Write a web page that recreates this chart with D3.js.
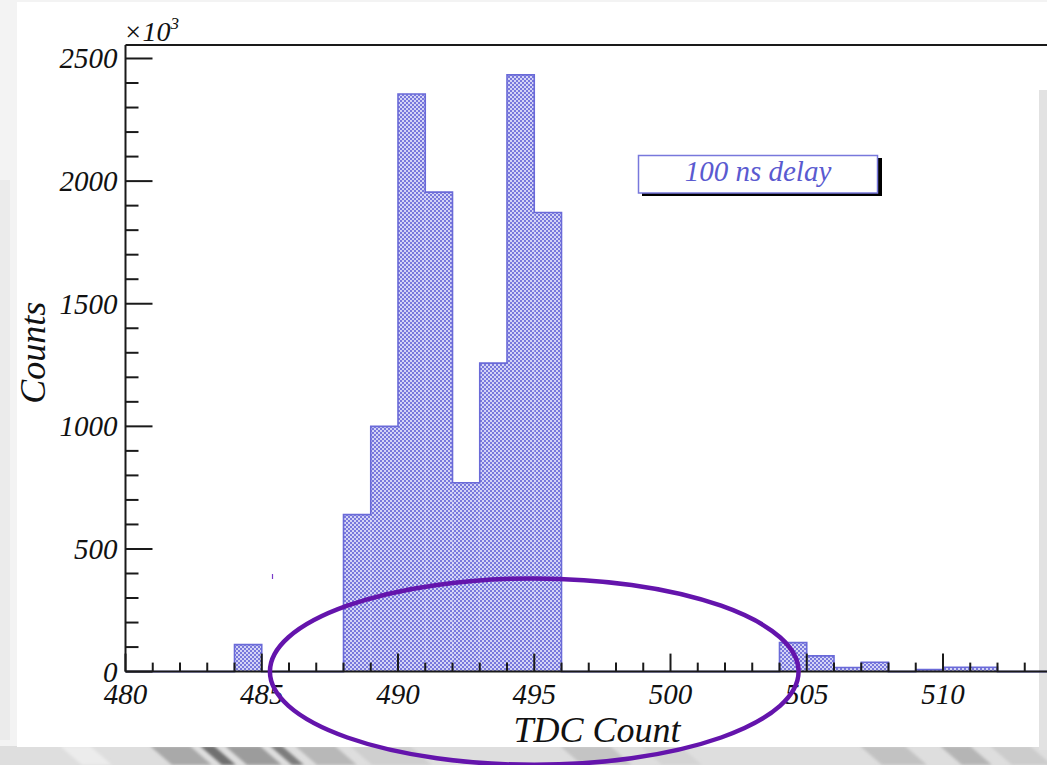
<!DOCTYPE html>
<html>
<head>
<meta charset="utf-8">
<script src="https://cdn.jsdelivr.net/npm/d3@7"></script>
<style>
  html, body { margin: 0; padding: 0; background: #fff; }
  #container { width: 1047px; height: 765px; overflow: hidden; }
  text { font-family: 'Liberation Serif', 'DejaVu Serif', serif; font-style: italic; }
</style>
</head>
<body>
<div id="container"></div>
<script>
// canvas
let width = 1047;
let height = 765;
let margin = { top: 45, left: 125.5, bottom: 93.4 };

// histogram bins (TDC count, lower edge) and counts in units of 10^3
const binLow = [480, 481, 482, 483, 484, 485, 486, 487, 488, 489, 490, 491, 492, 493, 494, 495, 496, 497,
  498, 499, 500, 501, 502, 503, 504, 505, 506, 507, 508, 509, 510, 511, 512, 513, 514];
const counts = [0, 0, 0, 0, 110, 0, 0, 0, 640, 1000, 2355, 1955, 770, 1258, 2433, 1872, 0, 0,
  0, 0, 0, 0, 0, 0, 118, 64, 17, 38, 0, 8, 18, 18, 0, 0, 0];
const binWidth = 1;

// axis ticks
const xTickLabels = [480, 485, 490, 495, 500, 505, 510];
const yTickLabels = [0, 500, 1000, 1500, 2000, 2500];
const xMinorStep = 1;
const yMinorStep = 100;

const legendText = '100 ns delay';
const xTitle = 'TDC Count';
const yTitle = 'Counts';

// the hand drawn ring, in data units
const ring = { cx: 495, cy: 0, rx: 9.7, ry: 380 };

let svg = d3.create('svg');

window.draw = () => {
  svg.attr('width', width).attr('height', height);

  let x = d3.scaleLinear().domain([480, 515]).range([margin.left, margin.left + 35 * 27.25]);
  let y = d3.scaleLinear().domain([0, 2555]).range([height - margin.bottom, margin.top]);
  let y0 = y(0);

  // slide background (grey streaks round the white panel)
  let defs = svg.append('defs');
  let blur = defs.append('filter').attr('id', 'blur').attr('x', '-10%').attr('y', '-50%')
    .attr('width', '120%').attr('height', '200%');
  blur.append('feGaussianBlur').attr('stdDeviation', 1.8);

  svg.append('rect').attr('width', width).attr('height', height).attr('fill', '#f3f3f3');
  svg.append('rect').attr('y', 746).attr('width', width).attr('height', 19).attr('fill', '#dedede');
  // streaks: left x, width, colour
  const streakList = [
    [60, 30, '#ececec'], [150, 40, '#a9a9a9'], [200, 14, '#6f6f6f'], [225, 35, '#9c9c9c'],
    [270, 12, '#7d7d7d'], [295, 40, '#b8b8b8'], [350, 60, '#cfcfcf'], [560, 50, '#c4c4c4'],
    [640, 40, '#d4d4d4'], [860, 45, '#c2c2c2'], [940, 30, '#b5b5b5'], [990, 40, '#cccccc']
  ];
  svg.append('g').attr('filter', 'url(#blur)').selectAll('polygon').data(streakList).enter()
    .append('polygon')
    .attr('points', d => [[d[0], 746], [d[0] + d[1], 746], [d[0] + d[1] + 22, 765], [d[0] + 22, 765]].join(' '))
    .attr('fill', d => d[2]);
  svg.append('rect').attr('x', 1039).attr('y', 90).attr('width', 8).attr('height', 660).attr('fill', '#e2e2e2');
  svg.append('rect').attr('x', 0).attr('y', 180).attr('width', 10).attr('height', 560).attr('fill', '#ebebeb');

  svg.append('rect').attr('x', 17).attr('y', 2).attr('width', 1022).attr('height', 745)
    .attr('fill', '#ffffff');
  svg.append('rect').attr('x', 1020).attr('y', 2).attr('width', 27).attr('height', 88)
    .attr('fill', '#ffffff');

  // checker fill like ROOT hatch
  let pat = defs.append('pattern').attr('id', 'checker').attr('patternUnits', 'userSpaceOnUse')
    .attr('width', 4).attr('height', 4);
  pat.append('rect').attr('width', 4).attr('height', 4).attr('fill', '#d4d4f6');
  pat.append('rect').attr('width', 2).attr('height', 2).attr('fill', '#7878dc');
  pat.append('rect').attr('x', 2).attr('y', 2).attr('width', 2).attr('height', 2).attr('fill', '#7878dc');

  let bins = binLow.map((b, i) => ({ x0: b, x1: b + binWidth, v: counts[i] }));

  svg.append('g').selectAll('rect').data(bins.filter(d => d.v > 0)).enter().append('rect')
    .attr('x', d => x(d.x0))
    .attr('y', d => y(d.v))
    .attr('width', d => x(d.x1) - x(d.x0))
    .attr('height', d => y0 - y(d.v))
    .attr('fill', 'url(#checker)');

  // outline of the histogram (step line)
  let pts = [[bins[0].x0, 0]];
  bins.forEach(d => { pts.push([d.x0, d.v]); pts.push([d.x1, d.v]); });
  pts.push([bins[bins.length - 1].x1, 0]);
  svg.append('path')
    .attr('d', d3.line().x(d => x(d[0])).y(d => y(d[1]))(pts))
    .attr('fill', 'none')
    .attr('stroke', '#6a6ad8')
    .attr('stroke-width', 1.6);

  // frame
  let axisColor = '#1a1a1a';
  svg.append('line').attr('x1', margin.left).attr('y1', margin.top).attr('x2', width).attr('y2', margin.top)
    .attr('stroke', axisColor).attr('stroke-width', 2);
  svg.append('line').attr('x1', margin.left).attr('y1', margin.top).attr('x2', margin.left).attr('y2', y0)
    .attr('stroke', axisColor).attr('stroke-width', 2);
  svg.append('line').attr('x1', margin.left).attr('y1', y0).attr('x2', width).attr('y2', y0)
    .attr('stroke', axisColor).attr('stroke-width', 2);

  // x ticks, inward
  let xMinor = d3.range(480, 516, xMinorStep);
  svg.append('g').selectAll('line').data(xMinor).enter().append('line')
    .attr('x1', d => x(d)).attr('x2', d => x(d))
    .attr('y1', y0)
    .attr('y2', d => y0 - (d % 5 === 0 ? 18 : 9))
    .attr('stroke', axisColor).attr('stroke-width', 2);

  svg.append('g').selectAll('text').data(xTickLabels).enter().append('text')
    .attr('x', d => x(d))
    .attr('y', y0 + 32)
    .attr('text-anchor', 'middle')
    .attr('font-size', '29px')
    .attr('fill', '#111')
    .text(d => d);

  // y ticks, inward
  let yMinor = d3.range(0, 2501, yMinorStep);
  svg.append('g').selectAll('line').data(yMinor).enter().append('line')
    .attr('x1', margin.left)
    .attr('x2', d => margin.left + (d % 500 === 0 ? 27 : 13))
    .attr('y1', d => y(d)).attr('y2', d => y(d))
    .attr('stroke', axisColor).attr('stroke-width', 2);

  svg.append('g').selectAll('text').data(yTickLabels).enter().append('text')
    .attr('x', margin.left - 8)
    .attr('y', d => y(d) + 10)
    .attr('text-anchor', 'end')
    .attr('font-size', '29px')
    .attr('fill', '#111')
    .text(d => d);

  // exponent
  let expo = svg.append('text').attr('x', margin.left - 2).attr('y', 41).attr('font-size', '28px').attr('fill', '#111');
  expo.append('tspan').text('\u00d710');
  expo.append('tspan').attr('dy', -12).attr('font-size', '17px').text('3');

  // axis titles
  svg.append('text')
    .attr('transform', 'translate(45,' + (y(1300)) + ') rotate(-90)')
    .attr('text-anchor', 'middle')
    .attr('font-size', '36px')
    .attr('fill', '#111')
    .text(yTitle);

  svg.append('text')
    .attr('x', x(497.3))
    .attr('y', 742)
    .attr('text-anchor', 'middle')
    .attr('font-size', '36px')
    .attr('fill', '#111')
    .text(xTitle);

  // legend box with shadow
  let lg = svg.append('g');
  lg.append('rect').attr('x', 642).attr('y', 158).attr('width', 240).attr('height', 38).attr('fill', '#000');
  lg.append('rect').attr('x', 638.5).attr('y', 155.5).attr('width', 239).attr('height', 37.5)
    .attr('fill', '#fff').attr('stroke', '#7878dc').attr('stroke-width', 1.5);
  lg.append('text').attr('x', 758).attr('y', 181).attr('text-anchor', 'middle')
    .attr('font-size', '29px').attr('fill', '#5a5ad0').text(legendText);

  // hand drawn ring
  svg.append('ellipse')
    .attr('cx', x(ring.cx)).attr('cy', y(ring.cy))
    .attr('rx', x(ring.cx + ring.rx) - x(ring.cx))
    .attr('ry', y(0) - y(ring.ry))
    .attr('fill', 'none')
    .attr('stroke', '#6414ac')
    .attr('stroke-width', 4.5);

  svg.append('line').attr('x1', 272.5).attr('y1', 574).attr('x2', 272.5).attr('y2', 579)
    .attr('stroke', '#7a3cc8').attr('stroke-width', 1.2);
};
draw();
d3.select('#container').append(() => svg.node());
</script>
</body>
</html>
